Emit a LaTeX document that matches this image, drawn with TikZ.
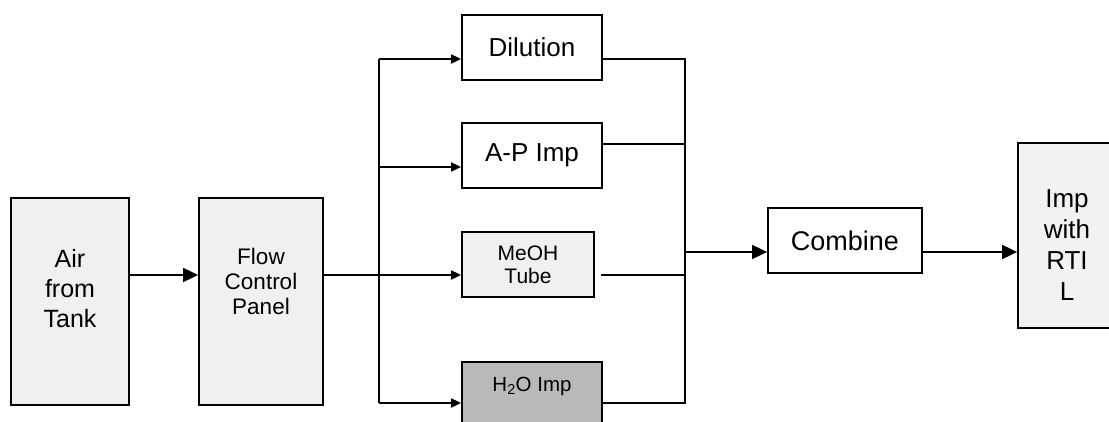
\documentclass[tikz,border=0pt]{standalone}
\usepackage{fontspec}
\setmainfont{Liberation Sans}
\usetikzlibrary{arrows.meta}

\begin{document}
\begin{tikzpicture}[x=1pt, y=-1pt,
    box/.style={draw, line width=1.8pt, inner sep=0pt, align=center},
    big/.style={-{Triangle[length=15pt,width=14pt]}, line width=1.8pt},
    small/.style={-{Triangle[length=10pt,width=9pt]}, line width=1.8pt},
    pipe/.style={line width=1.8pt}]
    % 1. Khung ảnh
    \useasboundingbox (0,0) rectangle (1109,422);
    \clip (0,0) rectangle (1109,422);

    % 2. Các khối
    \node[box, fill=gray!12, minimum width=118pt, minimum height=207pt,
        label={[align=center, font=\fontsize{25}{30}\selectfont, yshift=13pt]center:Air\\from\\Tank}]
        (air) at (70,301.5) {};
    \node[box, fill=gray!12, minimum width=124pt, minimum height=207pt,
        label={[align=center, font=\fontsize{22.5}{25}\selectfont, yshift=20pt]center:Flow\\Control\\Panel}]
        (flow) at (261,301.5) {};
    \node[box, fill=white, minimum width=140pt, minimum height=65pt,
        font=\fontsize{26}{30}\selectfont] (dil) at (532,47.5) {Dilution};
    \node[box, fill=white, minimum width=140pt, minimum height=65pt,
        font=\fontsize{26}{30}\selectfont] (ap) at (532,155.5) {A-P Imp};
    \node[box, fill=gray!12, minimum width=132pt, minimum height=65pt,
        font=\fontsize{21}{23}\selectfont] (meoh) at (528,264.5) {MeOH\\Tube};
    \node[box, fill=gray!55, minimum width=140pt, minimum height=65pt,
        label={[font=\fontsize{20.5}{23}\selectfont, yshift=8pt]center:H\textsubscript{2}O Imp}]
        (h2o) at (532,394.5) {};
    \node[box, fill=white, minimum width=154pt, minimum height=65pt,
        font=\fontsize{27}{30}\selectfont] (comb) at (845,240.5) {Combine};
    \node[box, fill=gray!10, minimum width=98pt, minimum height=185pt,
        label={[align=center, font=\fontsize{26}{31}\selectfont, yshift=-10pt]center:Imp\\with\\RTI\\L}]
        (imp) at (1067,235.5) {};

    % 3. Điểm rẽ nhánh và gom nhánh
    \coordinate (main) at (379,275);
    \coordinate (btop) at (379,59);
    \coordinate (bap) at (379,167);
    \coordinate (bbot) at (379,403);
    \coordinate (mtop) at (685,59);
    \coordinate (map) at (685,144);
    \coordinate (mmeoh) at (685,275);
    \coordinate (mout) at (685,252);
    \coordinate (mbot) at (685,403);

    % 4. Đường nối
    \draw[big] (air.east |- main) -- (flow.west |- main);
    \draw[small] (flow.east |- main) -- (meoh.west |- main);
    \draw[pipe] (btop) -- (bbot);
    \draw[small] (btop) -- (dil.west |- btop);
    \draw[small] (bap) -- (ap.west |- bap);
    \draw[small] (bbot) -- (h2o.west |- bbot);

    \draw[pipe] (dil.east |- mtop) -- (mtop) -- (mbot) -- (h2o.east |- mbot);
    \draw[pipe] (ap.east |- map) -- (map);
    \draw[pipe] ([xshift=6pt]meoh.east |- mmeoh) -- (mmeoh);
    \draw[big] (mout) -- (comb.west |- mout);
    \draw[big] (comb.east |- mout) -- (imp.west |- mout);
\end{tikzpicture}
\end{document}
